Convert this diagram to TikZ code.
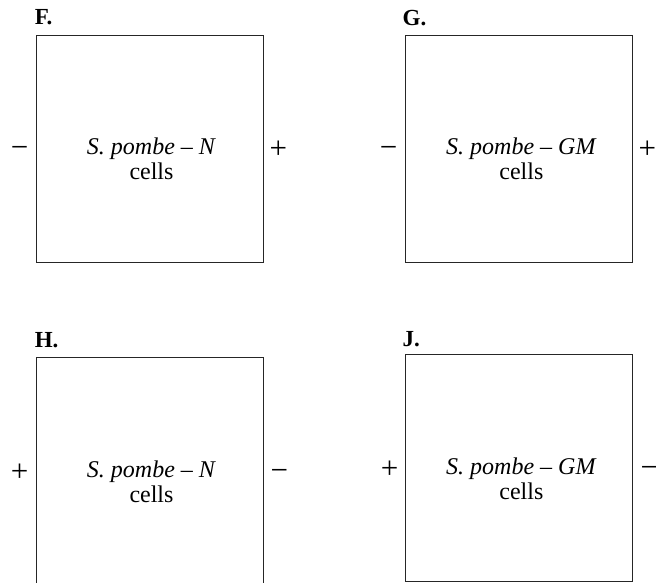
\documentclass[tikz,border=0pt]{standalone}
\usepackage{fontspec}
\setmainfont{Liberation Serif}
\usetikzlibrary{positioning}
\tikzset{
  dishbox/.style={rectangle, draw=black!85, line width=0.9pt,
    minimum width=227pt, minimum height=227pt, inner sep=0pt},
  celltext/.style={font=\fontsize{24}{25}\selectfont, align=center,
    inner sep=0pt},
  poletext/.style={font=\fontsize{31}{34}\selectfont, inner sep=0pt},
  paneltag/.style={font=\fontsize{23}{25}\selectfont\bfseries,
    inner sep=0pt, anchor=base west},
}
\begin{document}
\begin{tikzpicture}[x=1pt, y=-1pt]
  \useasboundingbox (0,0) rectangle (656,582);
  % top row
  \node[dishbox] (F) at (149.5,148.5) {};
  \node[dishbox, right=142pt of F] (G) {};
  \node[paneltag] (Ftag) at ([xshift=-1pt,yshift=10pt]F.north west) {F.};
  \node[paneltag] (Gtag) at ([xshift=-3pt,yshift=9pt]G.north west) {G.};
  \node[celltext, xshift=2pt, yshift=-10pt] (Ftxt) at (F) {\textit{S. pombe – N}\\cells};
  \node[celltext, xshift=2pt, yshift=-10pt] (Gtxt) at (G) {\textit{S. pombe – GM}\\cells};
  \node[poletext, left=7pt of F.west, anchor=base east, yshift=-9pt] (Fl) {−};
  \node[poletext, right=6pt of F.east, anchor=base west, yshift=-10pt] (Fr) {+};
  \node[poletext, left=8pt of G.west, anchor=base east, yshift=-9pt] (Gl) {−};
  \node[poletext, right=5pt of G.east, anchor=base west, yshift=-10pt] (Gr) {+};
  % bottom row
  \node[dishbox, below=95pt of F] (H) {};
  \node[dishbox, below=92pt of G] (J) {};
  \node[paneltag] (Htag) at ([xshift=-1pt,yshift=10pt]H.north west) {H.};
  \node[paneltag] (Jtag) at ([xshift=-3pt,yshift=8pt]J.north west) {J.};
  \node[celltext, xshift=2pt, yshift=-10pt] (Htxt) at (H) {\textit{S. pombe – N}\\cells};
  \node[celltext, xshift=2pt, yshift=-10pt] (Jtxt) at (J) {\textit{S. pombe – GM}\\cells};
  \node[poletext, left=7pt of H.west, anchor=base east, yshift=-10pt] (Hl) {+};
  \node[poletext, right=7pt of H.east, anchor=base west, yshift=-9pt] (Hr) {−};
  \node[poletext, left=7pt of J.west, anchor=base east, yshift=-10pt] (Jl) {+};
  \node[poletext, right=7pt of J.east, anchor=base west, yshift=-9pt] (Jr) {−};
\end{tikzpicture}
\end{document}
